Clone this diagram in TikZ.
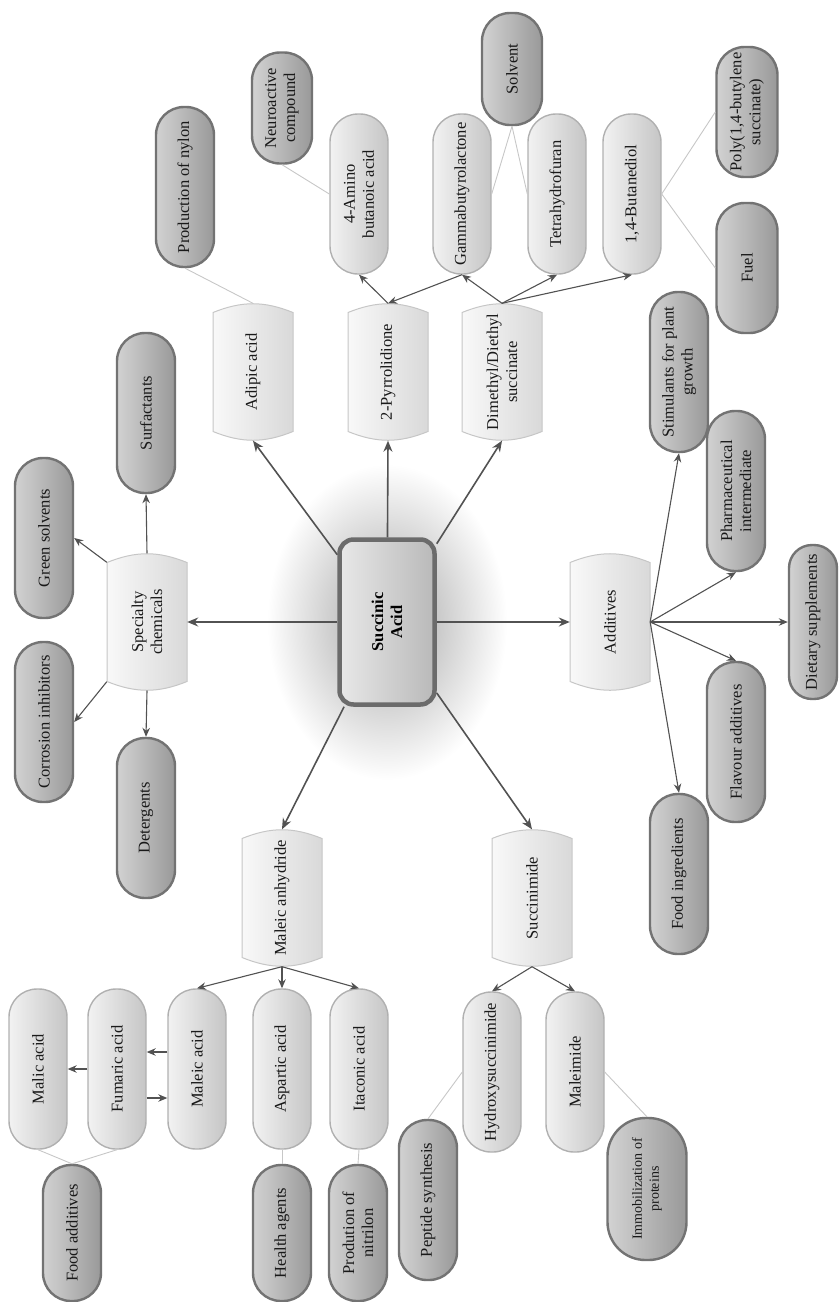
\documentclass[tikz,border=0pt]{standalone}
\usepackage{fontspec}
\setmainfont{Liberation Serif}
\usetikzlibrary{arrows.meta, positioning}
\pgfdeclarelayer{background}
\pgfsetlayers{background,main}

\begin{document}
\begin{tikzpicture}[x=1pt, y=-1pt, font=\fontsize{16.5}{19}\selectfont,
		pillbase/.style={rectangle, rounded corners=28pt, rotate=90, align=center, inner sep=1pt, text=black!90, minimum width=160pt, minimum height=58pt},
		usenode/.style={pillbase, draw=black!55, line width=2.4pt, left color=gray!35, middle color=gray!62, right color=gray!80},
		compound/.style={pillbase, draw=gray!62, line width=1.4pt, left color=gray!10, middle color=gray!28, right color=gray!45},
		group/.style={rectangle, rotate=90, align=center, inner sep=1pt, text=black!90, minimum width=137pt, minimum height=80pt},
		barrel/.style={draw=gray!45, line width=1pt, left color=gray!5, middle color=gray!14, right color=gray!30},
		hub/.style={rectangle, rounded corners=14pt, rotate=90, align=center, font=\fontsize{16.5}{19}\selectfont\bfseries, draw=black!58, line width=4.5pt, left color=gray!18, right color=gray!55, minimum width=165pt, minimum height=95pt},
		mainarrow/.style={draw=black!68, line width=1.6pt, -{Stealth[length=11pt,width=9pt]}},
		subarrow/.style={draw=black!68, line width=1.1pt, -{Stealth[length=9pt,width=7.5pt]}},
		link/.style={draw=black!22, line width=0.9pt}]
	\useasboundingbox (0,0) rectangle (839,1302);

	\node[hub] (sa) at (387,622) {Succinic\\Acid};

	\node[group] (adipic) at (253,372) {Adipic acid};
	\node[group] (pyrr) at (388,372) {2-Pyrrolidione};
	\node[group] (dmds) at (502,372) {Dimethyl/Diethyl\\succinate};
	\node[group] (special) at (147,622) {Specialty\\chemicals};
	\node[group] (additives) at (610,622) {Additives};
	\node[group] (manh) at (282,898) {Maleic anhydride};
	\node[group] (simide) at (532,898) {Succinimide};

	\node[compound] (gaba) at (359,194) {4-Amino\\butanoic acid};
	\node[compound] (gbl) at (462,194) {Gammabutyrolactone};
	\node[compound] (thf) at (557,194) {Tetrahydrofuran};
	\node[compound] (bdo) at (632,194) {1,4-Butanediol};
	\node[compound] (malic) at (38,1069) {Malic acid};
	\node[compound] (fumaric) at (117,1069) {Fumaric acid};
	\node[compound] (maleic) at (197,1069) {Maleic acid};
	\node[compound] (aspartic) at (282,1069) {Aspartic acid};
	\node[compound] (itaconic) at (359,1069) {Itaconic acid};
	\node[compound] (nhs) at (492,1072) {Hydroxysuccinimide};
	\node[compound] (maleimide) at (575,1072) {Maleimide};

	\node[usenode] (nylon) at (185,187) {Production of nylon};
	\node[usenode, minimum width=111pt, minimum height=60pt] (neuro) at (282,108) {Neuroactive\\compound};
	\node[usenode, minimum width=112pt, minimum height=60pt] (solvent) at (512,69) {Solvent};
	\node[usenode, minimum width=130pt, minimum height=61pt] (poly) at (747,112) {Poly(1,4-butylene\\succinate)};
	\node[usenode, minimum width=130pt, minimum height=61pt] (fuel) at (747,268) {Fuel};
	\node[usenode] (surf) at (146,413) {Surfactants};
	\node[usenode] (green) at (44,538) {Green solvents};
	\node[usenode] (corr) at (44,722) {Corrosion inhibitors};
	\node[usenode] (deterg) at (146,818) {Detergents};
	\node[usenode] (stim) at (679,372) {Stimulants for plant\\growth};
	\node[usenode] (pharma) at (736,491) {Pharmaceutical\\intermediate};
	\node[usenode, minimum width=154pt, minimum height=48pt, rounded corners=23pt] (dietary) at (813,622) {Dietary supplements};
	\node[usenode] (flavour) at (736,742) {Flavour additives};
	\node[usenode] (fooding) at (679,874) {Food ingredients};
	\node[usenode, minimum width=136pt] (foodadd) at (72,1233) {Food additives};
	\node[usenode, minimum width=136pt] (health) at (282,1233) {Health agents};
	\node[usenode, minimum width=136pt] (nitrilon) at (358,1233) {Prodution of\\nitrilon};
	\node[usenode] (peptide) at (428,1200) {Peptide synthesis};
	\node[usenode, minimum width=142pt, minimum height=79pt, rounded corners=38pt, font=\fontsize{14}{17}\selectfont] (immob) at (647,1189) {Immobilization of\\proteins};

	\begin{pgfonlayer}{background}
		\shade[inner color=gray!72, outer color=white] (sa) ellipse (120pt and 158pt);
		\foreach \n in {adipic, pyrr, dmds, special, additives, manh, simide}
		\draw[barrel] ([shift={(-40pt,59.5pt)}]\n.center) to[bend left=22] ([shift={(40pt,59.5pt)}]\n.center) -- ([shift={(40pt,-59.5pt)}]\n.center) to[bend left=22] ([shift={(-40pt,-59.5pt)}]\n.center) -- cycle;
	\end{pgfonlayer}

	\draw[mainarrow] (sa) -- (special.south);
	\draw[mainarrow] (sa) -- (adipic.west);
	\draw[mainarrow] (sa) -- (pyrr.west);
	\draw[mainarrow] (sa) -- (dmds.west);
	\draw[mainarrow] (sa) -- (additives.north);
	\draw[mainarrow] (sa) -- (manh.east);
	\draw[mainarrow] (sa) -- (simide.east);

	\draw[subarrow] (special.east) -- (surf.west);
	\draw[subarrow] ([yshift=-9pt]special.north east) -- (green.south);
	\draw[subarrow] ([yshift=9pt]special.north west) -- (corr.south);
	\draw[subarrow] (special.west) -- (deterg.east);

	\draw[subarrow] (pyrr.east) -- (gaba.west);
	\draw[subarrow] (gbl.west) -- (pyrr.east);
	\draw[subarrow] (dmds.east) -- (gbl.west);
	\draw[subarrow] (dmds.east) -- (thf.west);
	\draw[subarrow] (dmds.east) -- (bdo.west);
	\draw[link] (adipic.east) -- (nylon.west);
	\draw[link] (gaba.north) -- (neuro.west);
	\draw[link] (solvent.west) -- (gbl.south);
	\draw[link] (solvent.west) -- (thf.north);
	\draw[link] (bdo.south) -- (poly.north);
	\draw[link] (bdo.south) -- (fuel.north);

	\draw[subarrow] (additives.south) -- (stim.west);
	\draw[subarrow] (additives.south) -- (pharma.west);
	\draw[subarrow] (additives.south) -- (dietary.north);
	\draw[subarrow] (additives.south) -- (flavour.east);
	\draw[subarrow] (additives.south) -- (fooding.east);

	\draw[subarrow] (manh.west) -- (maleic.east);
	\draw[subarrow] (manh.west) -- (aspartic.east);
	\draw[subarrow] (manh.west) -- (itaconic.east);
	\draw[subarrow] ([yshift=17pt]maleic.north) -- ([yshift=17pt]fumaric.south);
	\draw[subarrow] ([yshift=-29pt]fumaric.south) -- ([yshift=-29pt]maleic.north);
	\draw[subarrow] (fumaric.north) -- (malic.south);
	\draw[link] (malic.west) -- (foodadd.east);
	\draw[link] (fumaric.west) -- (foodadd.east);
	\draw[link] (aspartic.west) -- (health.east);
	\draw[link] (itaconic.west) -- (nitrilon.east);

	\draw[subarrow] (simide.west) -- (nhs.east);
	\draw[subarrow] (simide.west) -- (maleimide.east);
	\draw[link] (nhs.north) -- (peptide.east);
	\draw[link] (maleimide.south) -- (immob.east);
\end{tikzpicture}
\end{document}
